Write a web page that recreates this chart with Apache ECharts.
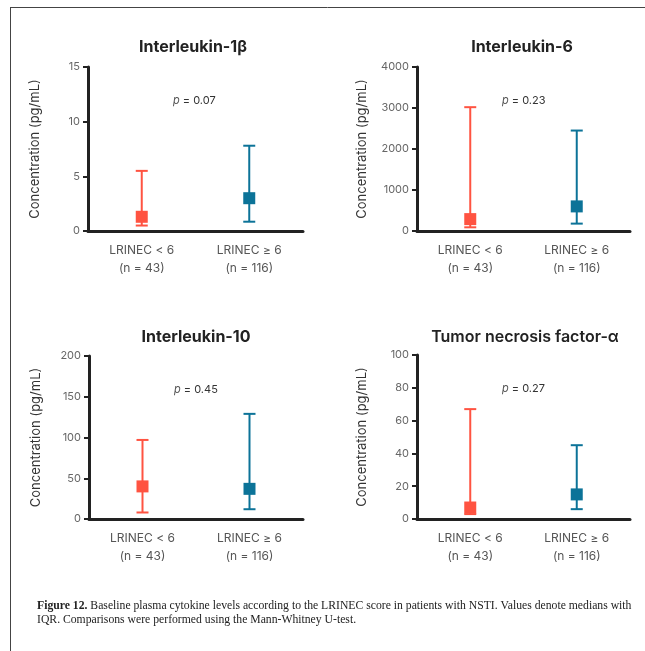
<!DOCTYPE html>
<html><head><meta charset="utf-8">
<script src="https://cdn.jsdelivr.net/npm/echarts@6/dist/echarts.min.js"></script>
<style>html,body{margin:0;padding:0;background:#fff}#c{width:645px;height:651px}</style>
</head><body><div id="c"></div>
<script>
const categories = ['LRINEC < 6\n(n = 43)', 'LRINEC \u2265 6\n(n = 116)'];
const panelTitles = ['Interleukin-1\u03b2', 'Interleukin-6', 'Interleukin-10', 'Tumor necrosis factor-\u03b1'];
const pValues = ['0.07', '0.23', '0.45', '0.27'];
const yMax = [15, 4000, 200, 100];
const yInterval = [5, 1000, 50, 20];
// medians and IQR (q1, q3) for [LRINEC<6, LRINEC>=6]
const il1bMedian = [1.3, 3.0], il1bQ1 = [0.5, 0.85], il1bQ3 = [5.5, 7.8];
const il6Median = [290, 600], il6Q1 = [90, 180], il6Q3 = [3020, 2450];
const il10Median = [40, 37], il10Q1 = [8, 12], il10Q3 = [97, 129];
const tnfMedian = [7, 15], tnfQ1 = [3, 6], tnfQ3 = [67, 45];

const medians = [il1bMedian, il6Median, il10Median, tnfMedian];
const q1s = [il1bQ1, il6Q1, il10Q1, tnfQ1];
const q3s = [il1bQ3, il6Q3, il10Q3, tnfQ3];
const colors = ['#FF5341', '#0C7398'];

const grids = [
  {left: 88, top: 67, width: 215, height: 164},
  {left: 417, top: 67, width: 213, height: 164},
  {left: 89, top: 356, width: 214, height: 163},
  {left: 417, top: 355, width: 213, height: 164}
];
const titleCenters = [[193, 47], [522, 47], [196, 337], [525, 337]];

const chart = echarts.init(document.getElementById('c'), null, {renderer: 'canvas'});
const xAxis = [], yAxis = [], series = [], graphic = [];
const font = 'Inter, "Open Sans", sans-serif';

grids.forEach((g, i) => {
  xAxis.push({
    type: 'category', gridIndex: i, data: categories,
    axisLine: {lineStyle: {color: '#222', width: 3}},
    axisTick: {show: false},
    axisLabel: {color: '#555', fontSize: 12, fontFamily: font, lineHeight: 18, margin: 10}
  });
  yAxis.push({
    type: 'value', gridIndex: i, min: 0, max: yMax[i], interval: yInterval[i],
    name: 'Concentration (pg/mL)', nameLocation: 'middle', nameGap: (i % 2 === 0 ? 46 : 48),
    nameTextStyle: {color: '#333', fontSize: 13, fontFamily: font},
    axisLine: {show: true, lineStyle: {color: '#222', width: 3}},
    axisTick: {show: true, length: 5, lineStyle: {color: '#222', width: 2}},
    axisLabel: {color: '#666', fontSize: 11, fontFamily: font, margin: 8, formatter: v => String(v)},
    splitLine: {show: false}
  });
  const ebData = categories.map((c, k) => [k, q1s[i][k], q3s[i][k]]);
  series.push({
    type: 'custom', xAxisIndex: i, yAxisIndex: i, data: ebData,
    renderItem: function (params, api) {
      const k = api.value(0);
      const lo = api.coord([k, api.value(1)]);
      const hi = api.coord([k, api.value(2)]);
      const hw = 6;
      const st = {stroke: colors[k], lineWidth: 2};
      return {type: 'group', children: [
        {type: 'line', shape: {x1: lo[0], y1: lo[1], x2: hi[0], y2: hi[1]}, style: st},
        {type: 'line', shape: {x1: lo[0] - hw, y1: lo[1], x2: lo[0] + hw, y2: lo[1]}, style: st},
        {type: 'line', shape: {x1: hi[0] - hw, y1: hi[1], x2: hi[0] + hw, y2: hi[1]}, style: st}
      ]};
    },
    z: 2
  });
  series.push({
    type: 'scatter', xAxisIndex: i, yAxisIndex: i,
    data: medians[i].map((v, k) => ({value: [k, v], itemStyle: {color: colors[k], opacity: 1}})),
    symbol: 'rect', symbolSize: 12, z: 3
  });
  graphic.push({
    type: 'text', x: titleCenters[i][0], y: titleCenters[i][1],
    style: {text: panelTitles[i], font: (i === 3 ? '600 ' : 'bold ') + '16px ' + font, fill: '#222',
      textAlign: 'center', textVerticalAlign: 'middle'}
  });
  graphic.push({
    type: 'text', x: g.left + 85, y: g.top + 34,
    style: {text: '{i|p} = ' + pValues[i], font: '11px ' + font, fill: '#333', textVerticalAlign: 'middle',
      rich: {i: {fontStyle: 'italic', fontSize: 11, fill: '#555', fontFamily: font}}}
  });
});

// frame lines
graphic.push({type: 'line', shape: {x1: 10, y1: 7.5, x2: 645, y2: 7.5}, style: {stroke: '#444', lineWidth: 1}});
graphic.push({type: 'line', shape: {x1: 10.5, y1: 7, x2: 10.5, y2: 651}, style: {stroke: '#444', lineWidth: 1}});
// caption
graphic.push({type: 'text', x: 37, y: 599, style: {
  text: '{b|Figure 12.} Baseline plasma cytokine levels according to the LRINEC score in patients with NSTI. Values denote medians with\nIQR. Comparisons were performed using the Mann-Whitney U-test.',
  font: '11.7px "Liberation Serif", serif', fill: '#222', lineHeight: 14,
  rich: {b: {fontWeight: 'bold', fontSize: 11.7, fontFamily: '"Liberation Serif", serif', fill: '#222'}}
}});

chart.setOption({
  animation: false,
  grid: grids,
  xAxis, yAxis, series, graphic
});
</script></body></html>
